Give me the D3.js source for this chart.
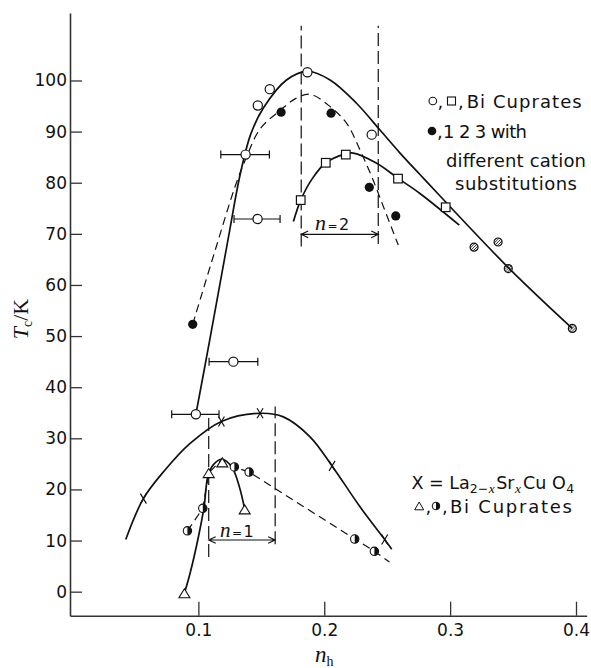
<!DOCTYPE html>
<html>
<head>
<meta charset="utf-8">
<script src="https://cdn.jsdelivr.net/npm/d3@7"></script>
<style>
  html, body { margin: 0; padding: 0; background: #fff; }
  svg { display: block; }
</style>
</head>
<body>
<svg id="chart" width="591" height="668"></svg>
<script>
// ---- Data: hole concentration n_h vs. Tc (K) ----
// Bi cuprates (open circles); first four carry horizontal error bars
const biOpen = [[0.098, 34.7], [0.1278, 45.0], [0.1470, 72.9], [0.1375, 85.5],
                [0.1472, 95.1], [0.1567, 98.3], [0.1866, 101.6], [0.2377, 89.4]];
const biOpenErr = [[0.0788, 0.1164], [0.1085, 0.1472], [0.1283, 0.1649], [0.1178, 0.1564]];
// Bi cuprates (open squares)
const biSquares = [[0.1813, 76.6], [0.2012, 83.9], [0.2171, 85.5], [0.2586, 80.8], [0.2965, 75.2]];
// 123 with different cation substitutions (filled circles)
const sub123 = [[0.0955, 52.3], [0.1657, 93.8], [0.2054, 93.6], [0.2358, 79.1], [0.2568, 73.5]];
// hatched circles on the overdoped branch
const hatched = [[0.319, 67.4], [0.3381, 68.4], [0.3462, 63.2], [0.3971, 51.5]];
// La(2-x)Sr(x)CuO4 (crosses)
const lsco = [[0.0563, 18.2], [0.1183, 33.3], [0.149, 34.9], [0.2062, 24.6], [0.248, 10.2]];
// single-layer Bi cuprates (triangles, half-filled circles)
const biTriangles = [[0.0889, -0.3], [0.1082, 23.2], [0.119, 25.3], [0.1368, 16.1]];
const biHalf = [[0.0913, 11.9], [0.1035, 16.3], [0.1286, 24.4], [0.1403, 23.4], [0.2242, 10.3], [0.2398, 7.9]];

// Hand-drawn guide curves (knots along each line)
const curveBiMain = [[0.098, 34.7], [0.109, 49.2], [0.124, 69.5], [0.1331, 81.5], [0.1416, 89.5],
                     [0.1516, 94.6], [0.17, 100.1], [0.1866, 101.8], [0.2046, 100.1], [0.2258, 95.5],
                     [0.2443, 90.3], [0.2602, 85.8], [0.276, 81.6], [0.292, 77.4], [0.347, 63.2], [0.397, 51.5]];
const curve123 = [[0.0955, 52.3], [0.1126, 66.2], [0.1291, 79.2], [0.1375, 84.6], [0.149, 90.5],
                  [0.1657, 94.3], [0.1775, 96.5], [0.1887, 97.3], [0.2046, 94.9], [0.2178, 91.6],
                  [0.2284, 86.4], [0.2377, 81.2], [0.247, 75.3], [0.2588, 67.8]];
const curveSquares = [[0.1755, 72.4], [0.1813, 76.6], [0.1905, 80.8], [0.2012, 83.9], [0.2165, 85.6],
                      [0.2231, 85.8], [0.2417, 83.8], [0.2584, 80.9], [0.276, 77.9], [0.3073, 71.7]];
const curveLsco = [[0.0423, 10.2], [0.0563, 18.2], [0.0735, 23.8], [0.0934, 29.0], [0.1183, 33.3],
                   [0.149, 34.9], [0.1675, 34.2], [0.1887, 30.3], [0.2062, 24.6], [0.2284, 16.6],
                   [0.248, 10.2], [0.2536, 8.3]];
const curveTri = [[0.0889, -0.3], [0.0934, 3.6], [0.1, 10.7], [0.1045, 16.6], [0.1075, 22.5],
                  [0.1118, 24.8], [0.1186, 25.9], [0.1265, 24.4], [0.1326, 20.5], [0.1368, 16.1]];
const curveHalf = [[0.0913, 11.9], [0.1035, 16.3], [0.1082, 23.2], [0.1186, 25.9], [0.1286, 24.4],
                   [0.1403, 23.4], [0.2242, 10.3], [0.2398, 7.9], [0.2518, 5.8]];

// Optimal-doping windows for n = 2 and n = 1 (x bounds, y extents, arrow level)
const windowN2 = { x: [0.1817, 0.2429], y: [[67.5, 110.7], [68.0, 110.7]], arrow: 69.9 };
const windowN1 = { x: [0.1082, 0.161], y: [[6.8, 34.1], [9.3, 36.2]], arrow: 10.1 };

const xTicks = [0.1, 0.2, 0.3, 0.4];
const yTicks = [0, 10, 20, 30, 40, 50, 60, 70, 80, 90, 100];

// ---- Scales ----
const svg = d3.select('#chart');
const x = d3.scaleLinear().domain([-0.002, 0.4085]).range([70, 586.7]);
const y = d3.scaleLinear().domain([-4.7, 113.2]).range([615.7, 13]);
const INK = '#111';
const SANS = 'DejaVu Sans, sans-serif';
const SERIF = 'Liberation Serif, DejaVu Serif, serif';

// hatch pattern for the hatched markers
const defs = svg.append('defs');
defs.append('pattern').attr('id', 'hatch').attr('patternUnits', 'userSpaceOnUse')
  .attr('width', 2.8).attr('height', 2.8)
  .append('path').attr('d', 'M0,2.8 L2.8,0 M-0.7,0.7 L0.7,-0.7 M2.1,3.5 L3.5,2.1')
  .attr('stroke', INK).attr('stroke-width', 0.9);

// ---- Axes ----
const yAxis = svg.append('g').attr('transform', 'translate(70,0)')
  .call(d3.axisLeft(y).tickValues(yTicks).tickSizeInner(-12).tickSizeOuter(0)
        .tickPadding(3).tickFormat(d3.format('d')));
const xAxis = svg.append('g').attr('transform', 'translate(0,615.7)')
  .call(d3.axisBottom(x).tickValues(xTicks).tickSizeInner(-14).tickSizeOuter(0)
        .tickPadding(8).tickFormat(d3.format('.1f')));
[yAxis, xAxis].forEach(g => {
  g.select('.domain').attr('stroke', '#333').attr('stroke-width', 1.6);
  g.selectAll('.tick line').attr('stroke', '#333').attr('stroke-width', 1.3);
  g.selectAll('.tick text').attr('fill', INK).style('font-family', SANS).style('font-size', '17px');
});

// axis titles
const yt = svg.append('text').attr('transform', 'translate(28,319) rotate(-90)')
  .attr('text-anchor', 'middle').attr('fill', INK).style('font-family', SERIF);
yt.append('tspan').text('T').style('font-style', 'italic').style('font-size', '22px');
yt.append('tspan').text('c').style('font-size', '14px').attr('dy', 4);
yt.append('tspan').text('/K').style('font-size', '22px').attr('dy', -4);

const xt = svg.append('text').attr('x', 315).attr('y', 662).attr('fill', INK).style('font-family', SERIF);
xt.append('tspan').text('n').style('font-style', 'italic').style('font-size', '23px');
xt.append('tspan').text('h').style('font-size', '14px').attr('dy', 4);

// ---- Guide curves ----
const smooth = d3.line().x(d => x(d[0])).y(d => y(d[1])).curve(d3.curveCatmullRom.alpha(0.5));
const straight = d3.line().x(d => x(d[0])).y(d => y(d[1]));
function drawCurve(data, gen, dashed, w) {
  svg.append('path').datum(data).attr('d', gen).attr('fill', 'none')
    .attr('stroke', INK).attr('stroke-width', w)
    .attr('stroke-dasharray', dashed ? '8,5' : null);
}
drawCurve(curveBiMain, smooth, false, 1.7);
drawCurve(curve123, smooth, true, 1.2);
drawCurve(curveSquares, smooth, false, 1.7);
drawCurve(curveLsco, smooth, false, 1.7);
drawCurve(curveTri, smooth, false, 1.7);
drawCurve(curveHalf, straight, true, 1.2);

// ---- Doping windows ----
function drawWindow(w) {
  w.x.forEach((xv, i) => {
    svg.append('line').attr('x1', x(xv)).attr('x2', x(xv))
      .attr('y1', y(w.y[i][0])).attr('y2', y(w.y[i][1]))
      .attr('stroke', INK).attr('stroke-width', 1.2).attr('stroke-dasharray', '13,5');
  });
  const x1 = x(w.x[0]), x2 = x(w.x[1]), ya = y(w.arrow);
  svg.append('path')
    .attr('d', `M${x1},${ya}H${x2}M${x1 + 7},${ya - 3.3}L${x1},${ya}L${x1 + 7},${ya + 3.3}` +
               `M${x2 - 7},${ya - 3.3}L${x2},${ya}L${x2 - 7},${ya + 3.3}`)
    .attr('fill', 'none').attr('stroke', INK).attr('stroke-width', 1.1);
}
drawWindow(windowN2);
drawWindow(windowN1);

function nLabel(px, py, num, size) {
  const t = svg.append('text').attr('x', px).attr('y', py).attr('fill', INK);
  t.append('tspan').text('n').style('font-family', SERIF).style('font-style', 'italic').style('font-size', size + 'px');
  t.append('tspan').text('=').style('font-family', SANS).style('font-size', '12px').attr('dx', 1.5);
  t.append('tspan').text(num).style('font-family', SANS).style('font-size', '16px').attr('dx', 1.5);
}
nLabel(315, 230, '2', 22);
nLabel(220, 536.5, '1', 21);

// ---- Error bars ----
biOpenErr.forEach((e, i) => {
  const yy = y(biOpen[i][1]);
  svg.append('path')
    .attr('d', `M${x(e[0])},${yy}H${x(e[1])}M${x(e[0])},${yy - 4}V${yy + 4}M${x(e[1])},${yy - 4}V${yy + 4}`)
    .attr('fill', 'none').attr('stroke', INK).attr('stroke-width', 1.2);
});

// ---- Markers ----
function markers(data, draw) {
  data.forEach(d => draw(svg.append('g').attr('transform', `translate(${x(d[0])},${y(d[1])})`)));
}
const openCircle = g => g.append('circle').attr('r', 4.6).attr('fill', '#fff').attr('stroke', INK).attr('stroke-width', 1.2);
const filledCircle = g => g.append('circle').attr('r', 4.6).attr('fill', INK);
const square = g => g.append('rect').attr('x', -4.3).attr('y', -4.3).attr('width', 8.6).attr('height', 8.6)
  .attr('fill', '#fff').attr('stroke', INK).attr('stroke-width', 1.2);
const hatchCircle = g => g.append('circle').attr('r', 4).attr('fill', 'url(#hatch)').attr('stroke', INK).attr('stroke-width', 1.2);
const cross = g => g.append('path').attr('d', 'M-3,-5L3,5M3,-5L-3,5').attr('stroke', INK).attr('stroke-width', 1.2);
const triangle = g => g.append('path').attr('d', 'M0,-4.5L5.5,4.5L-5.5,4.5Z')
  .attr('fill', '#fff').attr('stroke', INK).attr('stroke-width', 1.1);
const halfCircle = g => {
  g.append('circle').attr('r', 4.2).attr('fill', '#fff').attr('stroke', INK).attr('stroke-width', 1.1);
  g.append('path').attr('d', 'M0,-4.2A4.2,4.2 0 0 1 0,4.2Z').attr('fill', INK);
};

markers(biOpen, openCircle);
markers(sub123, filledCircle);
markers(biSquares, square);
markers(hatched, hatchCircle);
markers(lsco, cross);
markers(biTriangles, triangle);
markers(biHalf, halfCircle);

// ---- Legends ----
function legendText(px, py, str, len) {
  const t = svg.append('text').attr('x', px).attr('y', py).attr('fill', INK)
    .style('font-family', SANS).style('font-size', '18px').text(str);
  if (len) t.attr('textLength', len).attr('lengthAdjust', 'spacing');
  return t;
}
function legendMark(px, py, draw) { draw(svg.append('g').attr('transform', `translate(${px},${py})`)); }

legendMark(432.8, 101, g => g.append('circle').attr('r', 3.8).attr('fill', '#fff').attr('stroke', INK).attr('stroke-width', 1.1));
legendText(437.5, 107.5, ',');
legendMark(451.5, 101, g => g.append('rect').attr('x', -4).attr('y', -4).attr('width', 8).attr('height', 8)
  .attr('fill', '#fff').attr('stroke', INK).attr('stroke-width', 1.1));
legendText(458, 107.5, ',');
legendText(466.7, 107.5, 'Bi Cuprates', 115);

legendMark(432, 131, g => g.append('circle').attr('r', 4.3).attr('fill', INK));
legendText(437, 137.5, ',');
legendText(443, 137.5, '1 2 3 with', 84);
legendText(446, 167, 'different cation', 140);
legendText(455, 189.5, 'substitutions', 122);

// La(2-x)Sr(x)CuO4 formula as one text run with subscripts
const la = svg.append('text').attr('x', 411.5).attr('y', 488.5).attr('fill', INK)
  .style('font-family', SANS).style('font-size', '17.5px');
la.append('tspan').text('X = La');
la.append('tspan').text('2\u2212').style('font-size', '12.5px').attr('dy', 4);
la.append('tspan').text('x').style('font-size', '13.5px').style('font-family', SERIF).style('font-style', 'italic').attr('dx', 0.5);
la.append('tspan').text('Sr').attr('dy', -4).attr('dx', 1.5);
la.append('tspan').text('x').style('font-size', '13.5px').style('font-family', SERIF).style('font-style', 'italic').attr('dy', 4).attr('dx', 0.5);
la.append('tspan').text('Cu O').attr('dy', -4).attr('dx', 2);
la.append('tspan').text('4').style('font-size', '12.5px').attr('dy', 4).attr('dx', 0.5);

legendMark(419.2, 506, g => g.append('path').attr('d', 'M0,-4L4.5,3.8L-4.5,3.8Z')
  .attr('fill', '#fff').attr('stroke', INK).attr('stroke-width', 1));
legendText(425.5, 512.5, ',');
legendMark(436, 506, g => {
  g.append('circle').attr('r', 3.8).attr('fill', '#fff').attr('stroke', INK).attr('stroke-width', 1);
  g.append('path').attr('d', 'M0,-3.8A3.8,3.8 0 0 1 0,3.8Z').attr('fill', INK);
});
legendText(442, 512.5, ',');
legendText(450, 512.5, 'Bi Cuprates', 122);
</script>
</body>
</html>
